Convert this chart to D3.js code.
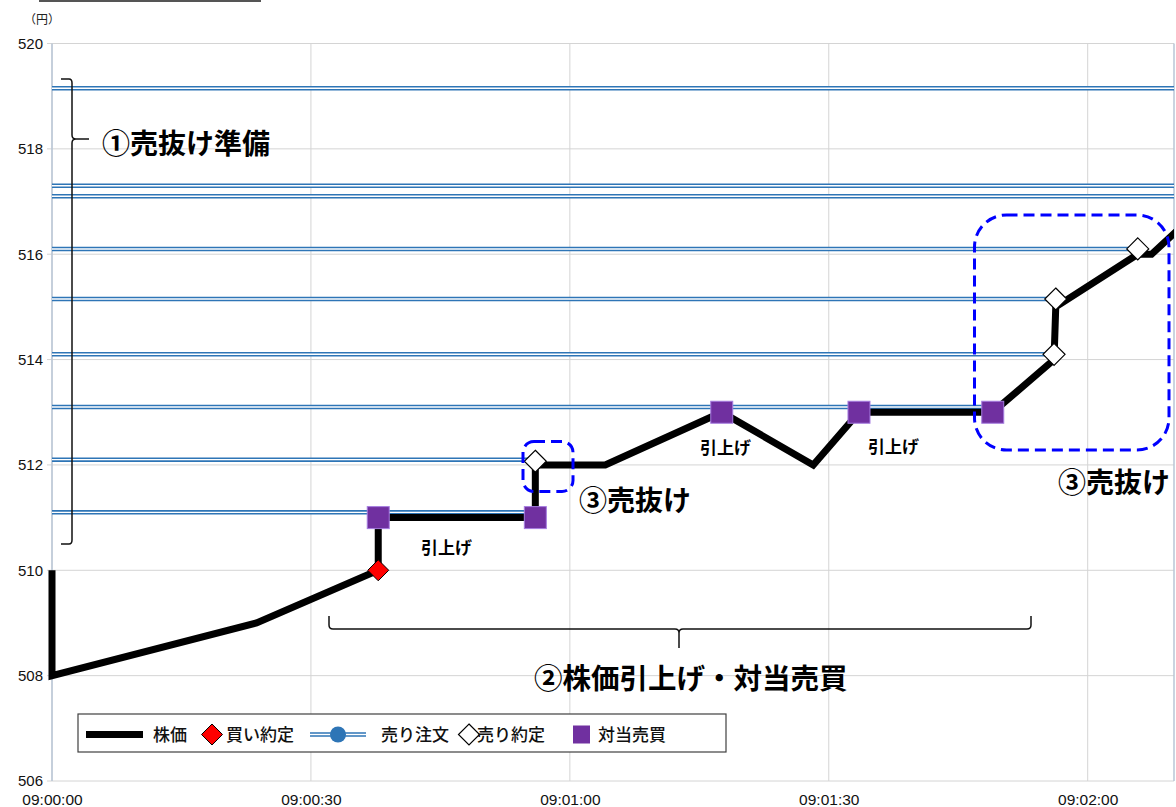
<!DOCTYPE html>
<html><head><meta charset="utf-8">
<script src="https://cdn.jsdelivr.net/npm/d3@7"></script>
<style>
html,body{margin:0;padding:0;background:#fff;}
svg{display:block;}
</style></head>
<body>
<svg id="chart" width="1176" height="807"></svg>
<script>
// ---- data (seconds after 09:00:00, price in yen) ----
const priceTimes = [0, 0, 23.7, 37.8, 37.8, 56, 56, 64.1, 77.6, 88.2, 93.5, 109, 116.1, 116.3, 125.8, 127.4, 134];
const prices     = [510, 508, 509, 510, 511, 511, 512, 512, 513, 512, 513, 513, 514, 515, 516, 516, 517];
const buyFillTimes = [37.8];
const buyFillPrices = [510];
const sellFillTimes = [56, 116.1, 116.3, 125.8];
const sellFillPrices = [512.07, 514.1, 515.15, 516.1];
const crossTimes = [37.8, 56, 77.6, 93.5, 109];
const crossPrices = [511, 511, 513, 513, 513];
const sellOrderPrices = [511.1, 512.1, 513.1, 514.1, 515.15, 516.1, 517.1, 517.3, 519.15];
const sellOrderEnds   = [56, 56, 109, 116.1, 116.3, 125.8, 130, 130, 130];
const yTicks = [506, 508, 510, 512, 514, 516, 518, 520];
const xTickSeconds = [0, 30, 60, 90, 120];
const legendLabels = ["株価", "買い約定", "売り注文", "売り約定", "対当売買"];

const base = new Date(2000, 0, 1, 9, 0, 0);
const T = s => new Date(base.getTime() + s * 1000);

const svg = d3.select("#chart");
const L = 52, R = 1174, TOP = 43.5, BOT = 781;
const x = d3.scaleTime().domain([T(0), T(130)]).range([L, R]);
const y = d3.scaleLinear().domain([506, 520]).range([BOT, TOP]);

const CJK = "'Noto Sans CJK JP','Noto Sans CJK SC',sans-serif";
const NUM = "'Liberation Sans',Arial,sans-serif";

// top decorative line
svg.append("line").attr("x1", 39).attr("x2", 261).attr("y1", 1).attr("y2", 1)
  .attr("stroke", "#555").attr("stroke-width", 2);

// unit
svg.append("text").attr("x", 42).attr("y", 24).attr("text-anchor", "middle")
  .attr("font-family", CJK).attr("font-size", 12).attr("fill", "#222").text("（円）");

// gridlines
const g = svg.append("g");
g.selectAll("line.h").data(yTicks).join("line")
  .attr("x1", L - 5).attr("x2", R).attr("y1", d => y(d)).attr("y2", d => y(d))
  .attr("stroke", "#d4d4d4").attr("stroke-width", 1);
g.selectAll("line.v").data(xTickSeconds).join("line")
  .attr("x1", d => x(T(d))).attr("x2", d => x(T(d))).attr("y1", TOP).attr("y2", BOT)
  .attr("stroke", "#d4d4d4").attr("stroke-width", 1);
g.append("line").attr("x1", L).attr("x2", L).attr("y1", TOP).attr("y2", BOT)
  .attr("stroke", "#b9c6d6").attr("stroke-width", 1.5);
g.append("line").attr("x1", R).attr("x2", R).attr("y1", TOP).attr("y2", BOT)
  .attr("stroke", "#b9c6d6").attr("stroke-width", 1.5);

// axes labels
const yAxis = d3.axisLeft(y).tickValues(yTicks).tickSize(0).tickPadding(8);
const ya = svg.append("g").attr("transform", `translate(${L - 1},0)`).call(yAxis);
ya.select(".domain").remove();
ya.selectAll("text").attr("font-family", NUM).attr("font-size", 15).attr("fill", "#111");

const xAxis = d3.axisBottom(x).tickValues(xTickSeconds.map(T))
  .tickFormat(d3.timeFormat("%H:%M:%S")).tickSize(0).tickPadding(13);
const xa = svg.append("g").attr("transform", `translate(0,${BOT})`).call(xAxis);
xa.select(".domain").remove();
xa.selectAll("text").attr("font-family", NUM).attr("font-size", 15.5).attr("fill", "#111");

// clip
svg.append("clipPath").attr("id", "plot").append("rect")
  .attr("x", L - 4).attr("y", TOP - 20).attr("width", R - L + 4).attr("height", BOT - TOP + 20);

// sell order double lines
const orders = sellOrderPrices.map((p, i) => ({p, e: sellOrderEnds[i]}));
const og = svg.append("g");
og.selectAll("line.o").data(orders).join("line")
  .attr("x1", L).attr("x2", d => x(T(d.e))).attr("y1", d => y(d.p)).attr("y2", d => y(d.p))
  .attr("stroke", "#2e75b6").attr("stroke-width", 4.5);
og.selectAll("line.i").data(orders).join("line")
  .attr("x1", L).attr("x2", d => x(T(d.e))).attr("y1", d => y(d.p)).attr("y2", d => y(d.p))
  .attr("stroke", "#ffffff").attr("stroke-width", 1.4);

// price line
const pts = priceTimes.map((t, i) => [t, prices[i]]);
svg.append("path").datum(pts).attr("clip-path", "url(#plot)")
  .attr("d", d3.line().x(d => x(T(d[0]))).y(d => y(d[1])))
  .attr("fill", "none").attr("stroke", "#000").attr("stroke-width", 7)
  .attr("stroke-linejoin", "miter");

// markers
const diamond = s => `M0,${-s}L${s},0L0,${s}L${-s},0Z`;
svg.selectAll("path.cross").data(crossTimes.map((t, i) => [t, crossPrices[i]])).join("rect")
  .attr("x", d => x(T(d[0])) - 11).attr("y", d => y(d[1]) - 11).attr("width", 22).attr("height", 22)
  .attr("fill", "#7030a0").attr("stroke", "#a57ce0").attr("stroke-width", 1);
svg.selectAll("path.buy").data(buyFillTimes.map((t, i) => [t, buyFillPrices[i]])).join("path")
  .attr("transform", d => `translate(${x(T(d[0]))},${y(d[1])})`).attr("d", diamond(10.5))
  .attr("fill", "#ff0000").attr("stroke", "#000").attr("stroke-width", 1);
svg.selectAll("path.sell").data(sellFillTimes.map((t, i) => [t, sellFillPrices[i]])).join("path")
  .attr("transform", d => `translate(${x(T(d[0]))},${y(d[1])})`).attr("d", diamond(11))
  .attr("fill", "#ffffff").attr("stroke", "#000").attr("stroke-width", 1.2);

// annotations: dashed rounded boxes
const dash = (x0, y0, x1, y1, r) => svg.append("rect").attr("x", x0).attr("y", y0)
  .attr("width", x1 - x0).attr("height", y1 - y0).attr("rx", r).attr("ry", r)
  .attr("fill", "none").attr("stroke", "#0000ff").attr("stroke-width", 3).attr("stroke-dasharray", "11,6");
dash(523, 441.5, 573, 491.5, 11);
dash(974.5, 215, 1169, 450, 32);

// brackets
svg.append("path")
  .attr("d", "M61,79 L69,79 Q72,79 72,83 L72,135 Q72,139 76,139 L89,139 M76,139 Q72,139 72,143 L72,540 Q72,544 69,544 L61,544")
  .attr("fill", "none").attr("stroke", "#111").attr("stroke-width", 1.5);
svg.append("path")
  .attr("d", "M329,616 L329,625 Q329,629 333,629 L675,629 Q679,629 679,633 L679,648 M679,633 Q679,629 683,629 L1027,629 Q1031,629 1031,625 L1031,616")
  .attr("fill", "none").attr("stroke", "#111").attr("stroke-width", 1.5);

// annotation texts
const ann = (tx, ty, txt, size) => svg.append("text").attr("x", tx).attr("y", ty)
  .attr("font-family", CJK).attr("font-weight", "bold").attr("font-size", size)
  .attr("fill", "#000").attr("dy", "0.37em").text(txt);
ann(102, 144, "①売抜け準備", 28);
ann(534, 678, "②株価引上げ・対当売買", 28.5);
ann(579, 501, "③売抜け", 28);
ann(1058, 483, "③売抜け", 28);
ann(421, 548, "引上げ", 17);
ann(700, 448, "引上げ", 17);
ann(868, 447, "引上げ", 17);

// legend
const lg = svg.append("g");
lg.append("rect").attr("x", 78).attr("y", 714).attr("width", 648).attr("height", 38)
  .attr("fill", "#fff").attr("stroke", "#404040").attr("stroke-width", 1.2);
const ly = 734.5;
lg.append("line").attr("x1", 86).attr("x2", 143).attr("y1", ly).attr("y2", ly)
  .attr("stroke", "#000").attr("stroke-width", 7);
lg.append("path").attr("transform", `translate(212,${ly})`).attr("d", diamond(10.5))
  .attr("fill", "#ff0000").attr("stroke", "#000").attr("stroke-width", 1);
lg.append("line").attr("x1", 310).attr("x2", 366).attr("y1", ly).attr("y2", ly)
  .attr("stroke", "#2e75b6").attr("stroke-width", 4.5);
lg.append("line").attr("x1", 310).attr("x2", 366).attr("y1", ly).attr("y2", ly)
  .attr("stroke", "#fff").attr("stroke-width", 1.4);
lg.append("circle").attr("cx", 338).attr("cy", ly).attr("r", 8).attr("fill", "#2e75b6");
lg.append("path").attr("transform", `translate(469,${ly})`).attr("d", diamond(10.5))
  .attr("fill", "#fff").attr("stroke", "#000").attr("stroke-width", 1.2);
lg.append("rect").attr("x", 573).attr("y", ly - 9).attr("width", 17).attr("height", 18)
  .attr("fill", "#7030a0");
const lx = [153, 226, 381, 477, 598];
lg.selectAll("text").data(legendLabels).join("text")
  .attr("x", (d, i) => lx[i]).attr("y", ly).attr("dy", "0.37em")
  .attr("font-family", CJK).attr("font-size", 17).attr("font-weight", 500).attr("fill", "#111")
  .text(d => d);
</script>
</body></html>
